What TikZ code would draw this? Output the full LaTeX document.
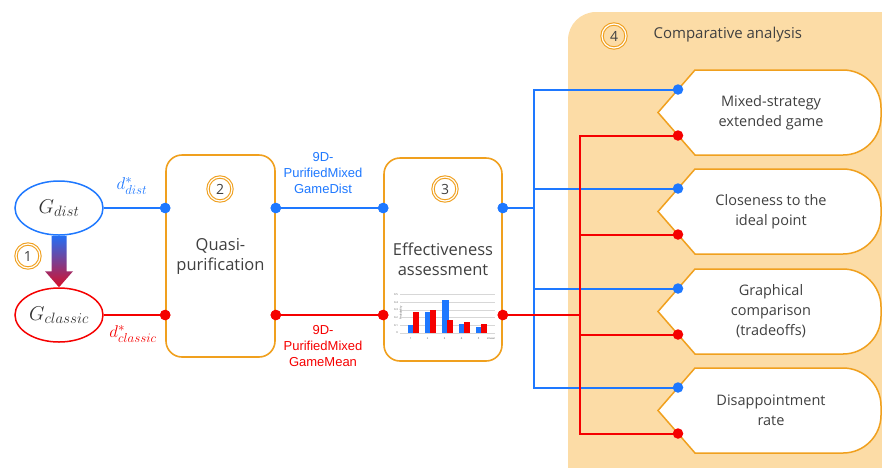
\documentclass[tikz,border=0pt]{standalone}
\usepackage{fix-cm}
\usepackage{fontspec}
\setmainfont{Open Sans}
\newfontfamily\labelfont{Liberation Sans}
\usetikzlibrary{shapes.geometric,calc}
\definecolor{linkblue}{RGB}{30,120,255}
\definecolor{linkred}{RGB}{245,0,0}
\definecolor{frameorange}{RGB}{240,160,30}
\definecolor{panelfill}{RGB}{252,220,166}
\definecolor{textgrey}{RGB}{64,64,64}
\definecolor{arrowtop}{RGB}{35,110,245}
\definecolor{arrowbottom}{RGB}{215,15,40}
\definecolor{gridgrey}{RGB}{215,215,215}
\newcommand\fs[2]{\fontsize{#1}{#2}\selectfont}
% math-italic script set at an explicit size
\newcommand\msub[2]{\mbox{\fs{#1}{#1}$\mathnormal{#2}$}}

\begin{document}
\begin{tikzpicture}[x=1pt,y=-1pt,
  stagebox/.style={draw=frameorange, line width=1.6pt, rounded corners=16pt, fill=white,
    align=center, text=textgrey, font=\fs{16.5}{20}},
  stepmark/.style={circle, draw=frameorange, double=white, double distance=1.2pt,
    line width=1.1pt, minimum size=24pt, inner sep=0pt, font=\fs{14}{14}, text=textgrey},
  gnode/.style={ellipse, line width=1.5pt, fill=white, minimum width=88pt,
    minimum height=54pt, inner sep=0pt, text=black!80, font=\fs{20}{20}},
  bluedot/.style={circle, fill=linkblue, minimum size=10.5pt, inner sep=0pt},
  reddot/.style={circle, fill=linkred, minimum size=10.5pt, inner sep=0pt},
  bluelink/.style={draw=linkblue, line width=2pt},
  redlink/.style={draw=linkred, line width=2pt},
  tagshape/.style={draw=frameorange, line width=1.5pt, fill=white},
  tagtext/.style={align=center, text=textgrey, font=\fs{14.5}{20}},
  flowlabel/.style={align=center, font=\labelfont\fs{13}{16}},
  ticklabel/.style={font=\fs{2.6}{3}, text=black!70, inner sep=0pt},
  dlabel/.style={font=\fs{17}{17}},
]
\useasboundingbox (0,0) rectangle (882,467);

% comparative-analysis panel
\fill[panelfill, rounded corners=28pt] (568,12) rectangle (915,495);
\node[stepmark] (m4) at (614,36) {4};
\node[anchor=west, text=textgrey, font=\fs{15}{15}] (cmp) at (650,35) {Comparative analysis};

% games
\node[gnode, draw=linkblue] (gdist) at (59,208) {$G_{\msub{15}{dist}}$};
\node[gnode, draw=linkred] (gclassic) at (59,315) {$G_{\msub{15}{classic}}$};
\node[stepmark] (m1) at (28,256) {1};
\path (gdist.south) coordinate (atop) (gclassic.north) coordinate (atip);
\shade[top color=arrowtop, bottom color=arrowbottom]
  ($(atop)+(-7.5,0)$) -- ($(atop)+(7.5,0)$) -- ($(atip)+(7.5,-16)$) -- ($(atip)+(14,-16)$)
  -- (atip) -- ($(atip)+(-14,-16)$) -- ($(atip)+(-7.5,-16)$) -- cycle;

% processing stages
\node[stagebox, minimum width=109pt, minimum height=202pt] (box2) at (220.5,256) {Quasi-\\purification};
\node[stepmark] (m2) at (220,189) {2};
\node[stagebox, minimum width=118pt, minimum height=203pt] (box3) at (443,259.5) {Effectiveness\\assessment};
\node[stepmark] (m3) at (445,189) {3};

% bar chart inside stage 3
\foreach \k in {0,...,5} {
  \draw[gridgrey, line width=0.4pt] (400,333-7.7*\k) -- (495,333-7.7*\k);
}
\foreach \k/\lab in {0/0,1/0.1,2/0.2,3/0.3,4/0.4,5/0.5} {
  \node[ticklabel, anchor=east] at (398,333-7.7*\k) {\lab};
}
\node[ticklabel, rotate=90] at (401,313) {Probability};
\foreach \vb/\vr [count=\i] in {0.10/0.27, 0.27/0.30, 0.43/0.17, 0.12/0.14, 0.08/0.12} {
  \pgfmathsetmacro\c{410.7+17*(\i-1)}
  \fill[linkblue] (\c-2.5,333) rectangle (\c+4,333-77*\vb);
  \fill[linkred] (\c+2,333) rectangle (\c+8.5,333-77*\vr);
  \node[ticklabel] at (\c,338.5) {\i};
}
\node[ticklabel] at (491,339) {Lmean};

% ports
\node[bluedot] (b2inB) at (box2.west |- gdist) {};
\node[reddot] (b2inR) at (box2.west |- gclassic) {};
\node[bluedot] (b2outB) at (box2.east |- gdist) {};
\node[reddot] (b2outR) at (box2.east |- gclassic) {};
\node[bluedot] (b3inB) at (box3.west |- gdist) {};
\node[reddot] (b3inR) at (box3.west |- gclassic) {};
\node[bluedot] (b3outB) at (box3.east |- gdist) {};
\node[reddot] (b3outR) at (box3.east |- gclassic) {};

% criteria tags
\foreach \t/\txt [count=\i] in {70/{Mixed-strategy\\extended game},
    169/{Closeness to the\\ideal point},
    269/{Graphical\\comparison\\(tradeoffs)},
    368/{Disappointment\\rate}} {
  \pgfmathsetmacro\yc{\t+42.5}
  \pgfmathsetmacro\bt{\t+85}
  \draw[tagshape] (658,\yc) -- (695,\t) -- (843,\t) arc[start angle=-90, end angle=0, radius=38]
    -- (881,\bt-38) arc[start angle=0, end angle=90, radius=38] -- (695,\bt) -- cycle;
  \node[tagtext] (tag\i) at (771,\yc) {\txt};
  \coordinate (tagb\i) at (678,\yc-23);
  \coordinate (tagr\i) at (678,\yc+23);
}

% junction columns
\coordinate (bj) at (534,0);
\coordinate (rj) at (580,0);

% connectors
\draw[bluelink] (gdist) -- (b2inB);
\draw[redlink] (gclassic) -- (b2inR);
\draw[bluelink] (b2outB) -- (b3inB);
\draw[redlink] (b2outR) -- (b3inR);
\foreach \i in {1,...,4} {
  \draw[bluelink] (b3outB.center) -| (bj |- tagb\i) -- (tagb\i);
}
\foreach \i in {1,...,4} {
  \draw[redlink] (b3outR.center) -| (rj |- tagr\i) -- (tagr\i);
}
\foreach \i in {1,...,4} {
  \node[bluedot] at (tagb\i) {};
  \node[reddot] at (tagr\i) {};
}
% redraw box ports on top of the links
\foreach \p in {b2inB,b2outB,b3inB,b3outB} { \node[bluedot] at (\p) {}; }
\foreach \p in {b2inR,b2outR,b3inR,b3outR} { \node[reddot] at (\p) {}; }

% labels
\node[dlabel, text=linkblue] (ddist) at (132,186) {$d^{\mbox{\fs{13}{13}$*$}}_{\msub{13}{dist}}$};
\node[dlabel, text=linkred] (dclassic) at (133,334) {$d^{\mbox{\fs{13}{13}$*$}}_{\msub{13}{classic}}$};
\node[flowlabel, text=linkblue] (lblB) at (323,173) {9D-\\PurifiedMixed\\GameDist};
\node[flowlabel, text=linkred] (lblR) at (323,346) {9D-\\PurifiedMixed\\GameMean};
\end{tikzpicture}
\end{document}
